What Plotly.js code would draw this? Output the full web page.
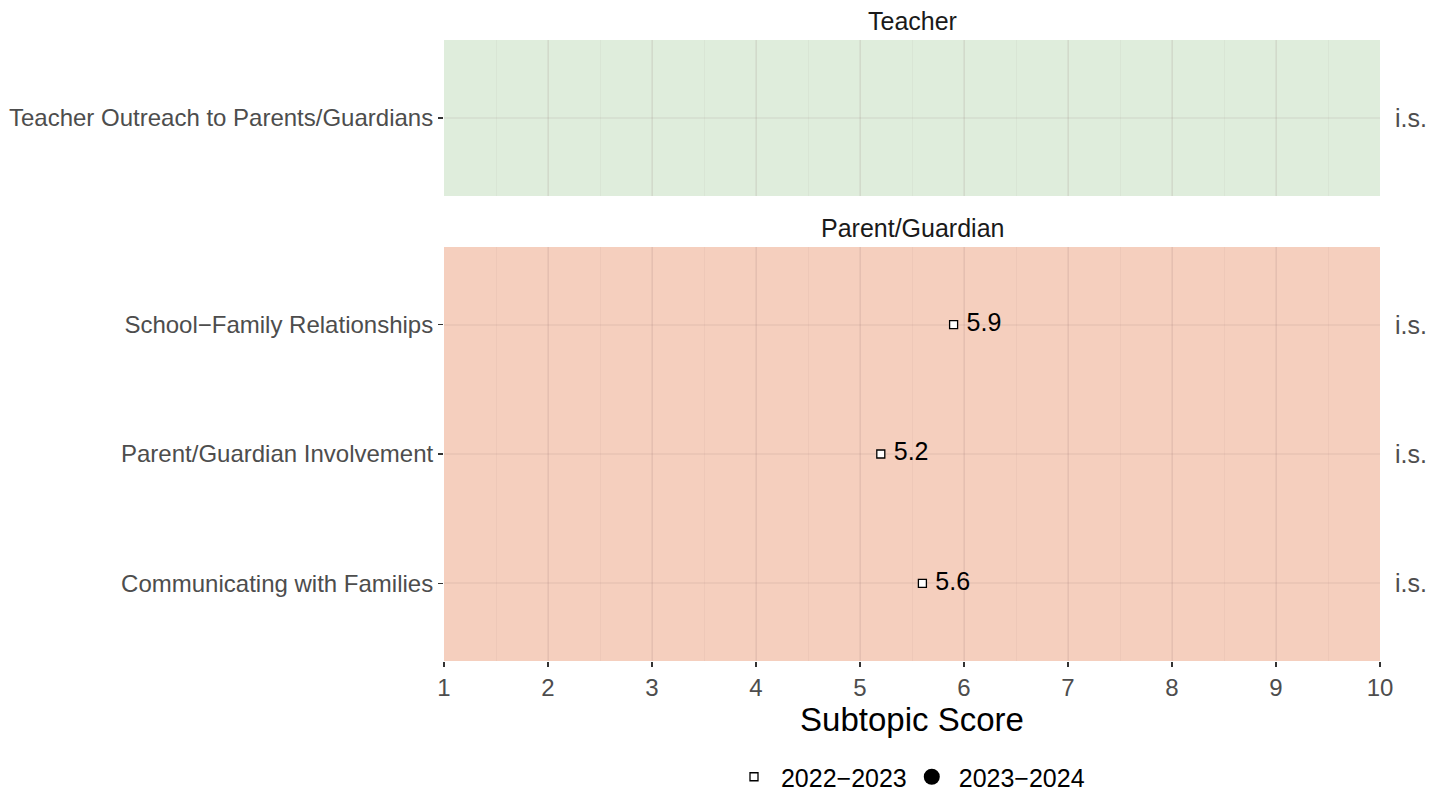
<!DOCTYPE html>
<html>
<head>
<meta charset="utf-8">
<script src="https://cdn.plot.ly/plotly-3.0.1.min.js"></script>
<style>html,body{margin:0;padding:0;background:#fff;}#chart{width:1444px;height:793px;}</style>
</head>
<body>
<div id="chart"></div>
<script>
// ---- data ----
const panelTitles = ["Teacher", "Parent/Guardian"];
const teacherCategories = ["Teacher Outreach to Parents/Guardians"];
const parentCategories = ["School\u2212Family Relationships", "Parent/Guardian Involvement", "Communicating with Families"];
const teacherScores2223 = [null];
const parentScores2223 = [5.9, 5.2, 5.6];
const teacherScores2324 = [null];
const parentScores2324 = [null, null, null];
const teacherStatus = ["i.s."];
const parentStatus = ["i.s.", "i.s.", "i.s."];
const seriesNames = ["2022\u22122023", "2023\u22122024"];
const xTicks = [1, 2, 3, 4, 5, 6, 7, 8, 9, 10];

const W = 1444, H = 793;
const px = v => v / W, py = v => (H - v) / H;
const FONT = "Liberation Sans, Arial, Helvetica, sans-serif";

const sq = {symbol: "square", size: 8, color: "#fff", line: {color: "#000", width: 1.3}};
const dot = {symbol: "circle", size: 17, color: "#000"};

const traces = [
  { x: teacherScores2223, y: teacherCategories, xaxis: "x2", yaxis: "y2", type: "scatter", mode: "markers+text",
    texttemplate: " %{x:.1f}", textposition: "middle right", textfont: {size: 25, color: "#000", family: FONT},
    marker: sq, name: " " + seriesNames[0], legendgroup: "a", showlegend: false, cliponaxis: false },
  { x: parentScores2223, y: parentCategories, xaxis: "x", yaxis: "y", type: "scatter", mode: "markers+text",
    texttemplate: " %{x:.1f}", textposition: "middle right", textfont: {size: 25, color: "#000", family: FONT},
    marker: sq, name: " " + seriesNames[0], legendgroup: "a", showlegend: true, cliponaxis: false },
  { x: teacherScores2324, y: teacherCategories, xaxis: "x2", yaxis: "y2", type: "scatter", mode: "markers",
    marker: dot, name: " " + seriesNames[1], legendgroup: "b", showlegend: false },
  { x: parentScores2324, y: parentCategories, xaxis: "x", yaxis: "y", type: "scatter", mode: "markers",
    marker: dot, name: " " + seriesNames[1], legendgroup: "b", showlegend: true }
];

const xDomain = [px(444), px(1380)];
const gridMajor = "rgba(140,110,100,0.085)";
const gridMinor = "rgba(140,110,100,0.06)";

const baseX = {
  domain: xDomain, range: [1, 10], tickvals: xTicks, showgrid: true, gridcolor: gridMajor, gridwidth: 2,
  zeroline: false, showline: false, fixedrange: true, automargin: false,
  minor: {dtick: 0.5, tick0: 1, showgrid: true, gridcolor: gridMinor, gridwidth: 1}
};
const baseY = {
  type: "category", categoryorder: "array", showgrid: true, gridcolor: gridMajor, gridwidth: 2, zeroline: false,
  ticks: "outside", ticklen: 5, tickwidth: 1.5, tickcolor: "#333", tickfont: {size: 24, color: "#4D4D4D"},
  fixedrange: true, automargin: false
};

const layout = {
  width: W, height: H, margin: {l: 0, r: 0, t: 0, b: 0, autoexpand: false},
  paper_bgcolor: "#fff", plot_bgcolor: "rgba(0,0,0,0)",
  font: {family: FONT, color: "#4D4D4D"},
  showlegend: true,
  legend: {orientation: "h", x: px(912), xanchor: "center", y: py(777), yanchor: "middle",
           font: {size: 25, color: "#000", family: FONT}, itemwidth: 30, tracegroupgap: 0},
  xaxis: Object.assign({}, baseX, {anchor: "y", ticks: "outside", ticklen: 5, tickwidth: 1.5, tickcolor: "#333",
    tickfont: {size: 24, color: "#4D4D4D"},
    title: {text: "Subtopic Score", font: {size: 33, color: "#000"}, standoff: 6}}),
  xaxis2: Object.assign({}, baseX, {anchor: "y2", matches: "x", showticklabels: false, ticks: ""}),
  yaxis: Object.assign({}, baseY, {domain: [py(661), py(247)], categoryarray: parentCategories, range: [2.6, -0.6], anchor: "x"}),
  yaxis2: Object.assign({}, baseY, {domain: [py(196), py(40)], categoryarray: teacherCategories, range: [0.6, -0.6], anchor: "x2"}),
  shapes: [
    {type: "rect", xref: "x2 domain", yref: "y2 domain", x0: 0, x1: 1, y0: 0, y1: 1, fillcolor: "#DFEDDC", line: {width: 0}, layer: "below"},
    {type: "rect", xref: "x domain", yref: "y domain", x0: 0, x1: 1, y0: 0, y1: 1, fillcolor: "#F5CFBE", line: {width: 0}, layer: "below"}
  ],
  annotations: [
    {text: panelTitles[0], xref: "paper", yref: "paper", x: (xDomain[0] + xDomain[1]) / 2, y: py(21), showarrow: false,
     font: {size: 25, color: "#1A1A1A"}, xanchor: "center", yanchor: "middle"},
    {text: panelTitles[1], xref: "paper", yref: "paper", x: (xDomain[0] + xDomain[1]) / 2, y: py(228), showarrow: false,
     font: {size: 25, color: "#1A1A1A"}, xanchor: "center", yanchor: "middle"}
  ].concat(
    teacherCategories.map((c, i) => ({text: teacherStatus[i], xref: "paper", yref: "y2", x: px(1393), y: c, showarrow: false,
      xanchor: "left", yanchor: "middle", font: {size: 25, color: "#4D4D4D"}})),
    parentCategories.map((c, i) => ({text: parentStatus[i], xref: "paper", yref: "y", x: px(1393), y: c, showarrow: false,
      xanchor: "left", yanchor: "middle", font: {size: 25, color: "#4D4D4D"}}))
  )
};

Plotly.newPlot("chart", traces, layout, {displayModeBar: false, staticPlot: true});
</script>
</body>
</html>
